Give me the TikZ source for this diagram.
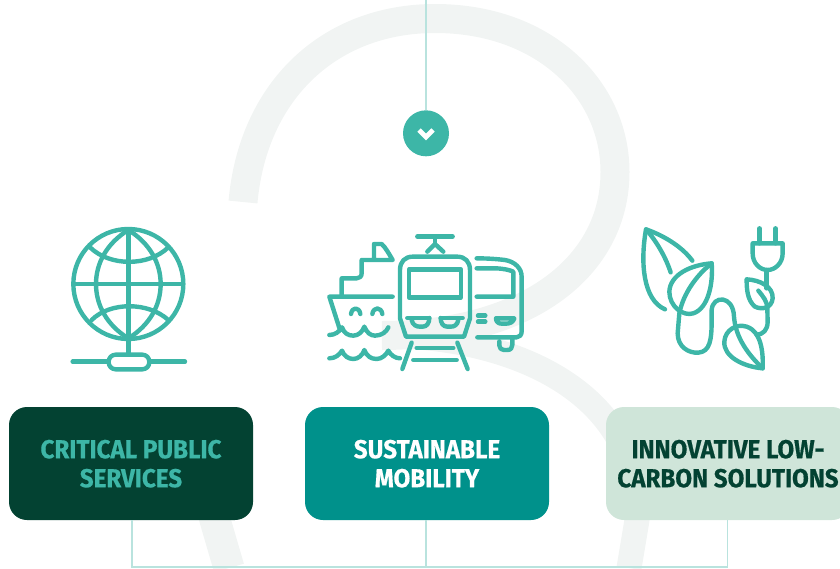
\documentclass[tikz,border=0pt]{standalone}
\usepackage{fontspec}
\newfontfamily\labfont[FakeStretch=0.93,FakeBold=0.5]{Fira Sans}
\definecolor{bgband}{HTML}{F1F4F3}
\definecolor{teal}{HTML}{3DB6A7}
\definecolor{lineteal}{HTML}{B9E3DE}
\definecolor{darkgreen}{HTML}{034232}
\definecolor{midteal}{HTML}{00918B}
\definecolor{palegreen}{HTML}{CFE5D9}
\tikzset{
  iconline/.style={draw=teal,line width=4.4pt,line cap=round,line join=round},
  band/.style={draw=bgband,line cap=butt},
  wire/.style={draw=lineteal,line width=1.4pt},
  cardbox/.style={rectangle,rounded corners=18pt,minimum width=244pt,minimum height=113pt,inner sep=0pt,align=center,
    font=\labfont\bfseries\fontsize{26}{29}\selectfont,text depth=0pt},
  crop/.style={x=0.3333pt,y=-0.3333pt}
}
\begin{document}
\begin{tikzpicture}[x=1pt,y=-1pt]
\useasboundingbox (0,0) rectangle (840,568);
\clip (0,0) rectangle (840,568);
% background figure
\draw[band,line width=29pt] (243,202) .. controls (253,90) and (330,18.5) .. (435,18.5) .. controls (545,18.5) and (615,90) .. (615,172) .. controls (615,265) and (530,335) .. (382,335.5);
\draw[band,line width=25pt] (382,335.5) .. controls (510,335.5) and (642,390) .. (637,520) -- (629,568);
\draw[band,line width=31pt] (208,490) -- (215,520) -- (229,568);
% connectors
\node[circle,fill=teal,minimum size=46pt,inner sep=0pt] (arrow) at (426,133.3) {};
\coordinate (topend) at (426,0);
\coordinate (j1) at (132,567);
\coordinate (j2) at (426,567);
\coordinate (j3) at (727.5,567);
\node[cardbox,fill=darkgreen,text=teal] (c1) at (131,463.5) {CRITICAL PUBLIC\\SERVICES};
\node[cardbox,fill=midteal,text=white] (c2) at (427,463.5) {SUSTAINABLE\\MOBILITY};
\node[cardbox,fill=palegreen,text=darkgreen] (c3) at (728,463.5) {INNOVATIVE LOW-\\CARBON SOLUTIONS};
\draw[wire] (topend) -- (arrow.north);
\draw[wire] (c1.south -| j1) -- (j1) -- (j3) -- (c3.south -| j3);
\draw[wire] (c2.south -| j2) -- (j2);
\draw[white,line width=4.8pt,line join=miter] (419,130) -- (426,137) -- (433,130);
% globe
\begin{scope}[shift={(60,220)},crop]
\draw[iconline] (205,192) circle[radius=165];
\draw[iconline] (205,30) .. controls (140,70) and (108,130) .. (108,192) .. controls (108,255) and (140,315) .. (205,355) .. controls (270,315) and (302,255) .. (302,192) .. controls (302,130) and (270,70) .. (205,30);
\draw[iconline] (205,30) -- (205,404);
\draw[iconline] (42,192) -- (368,192);
\draw[iconline] (90,82) .. controls (150,140) and (265,140) .. (325,82);
\draw[iconline] (95,300) .. controls (150,245) and (265,245) .. (325,300);
\draw[iconline,rounded corners=7pt] (146,404) rectangle (268,448);
\draw[iconline] (38,425) -- (146,425);
\draw[iconline] (268,425) -- (375,425);
\end{scope}
% train, ship, bus
\begin{scope}[shift={(320,220)},crop]
\draw[iconline] (292,50) -- (398,50);
\draw[iconline] (345,50) -- (345,72);
\draw[iconline] (322,95) -- (345,72) -- (370,95);
\draw[iconline] (240,295) -- (240,150) .. controls (240,125) and (255,110) .. (278,110) -- (412,110) .. controls (435,110) and (450,125) .. (450,150) -- (450,295) -- (432,350) -- (258,350) -- cycle;
\draw[iconline] (267,148) rectangle (423,232);
\draw[iconline] (262,294) -- (328,294);
\draw[iconline] (275,300) .. controls (278,316) and (290,320) .. (300,320) -- (308,320) .. controls (320,320) and (328,310) .. (328,294);
\draw[iconline] (428,294) -- (362,294);
\draw[iconline] (362,294) .. controls (362,310) and (370,320) .. (382,320) -- (392,320) .. controls (402,320) and (412,316) .. (415,300);
\draw[iconline] (275,368) -- (247,447);
\draw[iconline] (412,368) -- (443,447);
\draw[iconline] (290,384) -- (400,384);
\draw[iconline] (280,420) -- (410,420);
% bus
\draw[iconline] (470,115) .. controls (500,115) and (530,117) .. (555,120) .. controls (585,125) and (605,145) .. (605,170) -- (605,335) .. controls (605,345) and (598,352) .. (590,352) -- (472,352);
\draw[iconline] (470,145) -- (530,145) .. controls (550,146) and (570,150) .. (580,155) -- (580,230) -- (470,230);
\draw[iconline] (474,287) -- (496,287);
\draw[iconline] (474,305) -- (496,305);
\draw[iconline] (528,295) -- (583,295) .. controls (580,306) and (570,311) .. (558,311) -- (545,311) .. controls (535,311) and (528,305) .. (528,295);
\draw[iconline] (538,364) -- (538,376) .. controls (538,385) and (544,390) .. (552,390) -- (562,390) .. controls (572,390) and (577,384) .. (577,375) -- (577,356);
% ship
\draw[iconline] (162,118) -- (162,72) -- (185,72) .. controls (195,80) and (208,103) .. (218,120) -- (125,120) -- (125,160) .. controls (125,170) and (118,175) .. (110,175) -- (65,175) -- (65,228);
\draw[iconline] (218,230) -- (28,230) -- (60,330);
\draw[iconline] (93,282) .. controls (96,260) and (118,260) .. (121,282);
\draw[iconline] (157,282) .. controls (160,260) and (184,260) .. (187,282);
\draw[iconline] (28,345) .. controls (45,345) and (58,335) .. (66,322) .. controls (72,340) and (85,347) .. (100,347) .. controls (115,347) and (128,335) .. (133,320) .. controls (140,338) and (152,347) .. (165,347) .. controls (185,347) and (200,335) .. (205,322);
\draw[iconline] (28,415) .. controls (45,415) and (58,405) .. (66,392) .. controls (72,408) and (85,417) .. (100,417) .. controls (115,417) and (128,405) .. (133,390) .. controls (140,408) and (152,417) .. (170,417) .. controls (185,417) and (198,405) .. (205,392) .. controls (212,405) and (225,415) .. (240,415);
\end{scope}
% leaves and plug
\begin{scope}[shift={(630,220)},crop]
\draw[iconline] (187,122) .. controls (160,85) and (110,50) .. (48,28) .. controls (30,130) and (40,240) .. (105,268);
\draw[iconline] (48,28) .. controls (85,70) and (110,120) .. (122,157);
\draw[iconline] (245,130) .. controls (180,135) and (120,165) .. (118,215) .. controls (118,260) and (160,290) .. (190,280) .. controls (235,265) and (250,190) .. (245,130);
\draw[iconline] (245,130) .. controls (200,165) and (160,220) .. (148,280) -- (143,340) .. controls (143,380) and (175,400) .. (205,398) .. controls (240,395) and (245,360) .. (245,300) -- (245,270) .. controls (248,225) and (310,225) .. (312,290) .. controls (316,340) and (340,390) .. (398,445);
\draw[iconline] (398,445) .. controls (340,440) and (280,410) .. (283,365) .. controls (285,330) and (320,310) .. (350,320) .. controls (395,335) and (400,400) .. (398,445);
\draw[iconline] (350,178) .. controls (390,180) and (430,200) .. (428,235) .. controls (425,265) and (395,270) .. (375,260) .. controls (350,240) and (350,200) .. (350,178);
\draw[iconline] (385,212) .. controls (400,230) and (412,245) .. (412,265) -- (413,305) .. controls (413,330) and (400,342) .. (380,345);
\draw[iconline] (410,150) -- (410,205);
\draw[iconline] (388,25) -- (388,70);
\draw[iconline] (437,25) -- (437,70);
\draw[iconline] (368,70) -- (458,70) -- (458,100) .. controls (458,130) and (435,150) .. (413,150) .. controls (390,150) and (368,130) .. (368,100) -- cycle;
\end{scope}
\end{tikzpicture}
\end{document}
